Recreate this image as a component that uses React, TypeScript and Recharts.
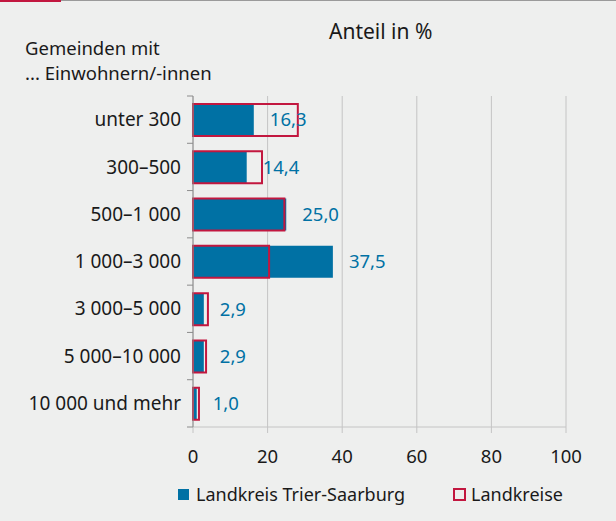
import { BarChart, Bar, XAxis, YAxis, CartesianGrid, Legend, LabelList } from 'recharts';

const categories = ['unter 300', '300–500', '500–1 000', '1 000–3 000', '3 000–5 000', '5 000–10 000', '10 000 und mehr'];
const trierSaarburg = [16.3, 14.4, 25.0, 37.5, 2.9, 2.9, 1.0];
const landkreise = [28.1, 18.5, 24.5, 20.4, 4.0, 3.5, 1.6];
const xTicks = [0, 20, 40, 60, 80, 100];

const BLUE = '#0071a4';
const RED = '#c2173f';
const BG = '#eeefee';
const GRID = '#c4c4c4';
const TEXT = '#1a1a1a';
const FONT = '"Noto Sans", sans-serif';

const TOP = 96;
const PLOT_H = 331;
const HALF_BAND = PLOT_H / categories.length / 2;
const LEGEND_H = 20;

const chartData = categories.map((name, i) => ({
  name,
  trier: trierSaarburg[i],
  kreise: landkreise[i],
}));

const fmt = (v: number) => v.toFixed(1).replace('.', ',');

const CategoryTick = (props: any) => {
  const { x, y, payload, index } = props;
  const axisX = x + 8;
  return (
    <g>
      <line x1={axisX - 6} x2={axisX} y1={y - HALF_BAND} y2={y - HALF_BAND} stroke="#8c8c8c" />
      {index === categories.length - 1 && (
        <line x1={axisX - 6} x2={axisX} y1={y + HALF_BAND} y2={y + HALF_BAND} stroke="#8c8c8c" />
      )}
      <text x={axisX - 12} y={y} dy="0.35em" textAnchor="end" fill={TEXT} fontSize={19} fontFamily={FONT}>
        {payload.value}
      </text>
    </g>
  );
};

const ValueLabel = (props: any) => {
  const { x, y, width, height, value } = props;
  return (
    <text x={x + width + 16} y={y + height / 2} dy="0.35em" fill={BLUE} fontSize={18.5} fontFamily={FONT}>
      {fmt(value)}
    </text>
  );
};

const LegendContent = () => (
  <div style={{ position: 'relative', height: LEGEND_H, fontFamily: FONT, fontSize: 18, color: TEXT }}>
    <span style={{ position: 'absolute', left: 178, top: 0, display: 'flex', alignItems: 'center', whiteSpace: 'nowrap' }}>
      <span style={{ width: 11, height: 11, background: BLUE, marginRight: 7, display: 'inline-block' }} />
      Landkreis Trier-Saarburg
    </span>
    <span style={{ position: 'absolute', left: 453, top: 0, display: 'flex', alignItems: 'center', whiteSpace: 'nowrap' }}>
      <span style={{ width: 9, height: 9, border: `2px solid ${RED}`, marginRight: 5, display: 'inline-block' }} />
      Landkreise
    </span>
  </div>
);

const App = () => {
  return (
    <div style={{ position: 'absolute', left: 0, top: 0, width: 616, height: 521, background: BG, overflow: 'hidden' }}>
      <div style={{ position: 'absolute', left: 0, top: 0, width: 616, height: 1, background: '#9a9a9a' }} />
      <div style={{ position: 'absolute', left: 0, top: 0, width: 61, height: 2, background: RED }} />
      <div style={{ position: 'absolute', left: 329, top: 17, fontFamily: FONT, fontSize: 21, color: TEXT, whiteSpace: 'nowrap' }}>
        Anteil in %
      </div>
      <div style={{ position: 'absolute', left: 25, top: 35, fontFamily: FONT, fontSize: 18.5, lineHeight: '25px', color: TEXT, whiteSpace: 'nowrap' }}>
        Gemeinden mit<br />... Einwohnern/-innen
      </div>
      <BarChart
        width={616}
        height={521}
        data={chartData}
        layout="vertical"
        margin={{ top: TOP, right: 50, bottom: 521 - TOP - PLOT_H - 40 - LEGEND_H, left: 0 }}
        barSize={32}
      >
        <CartesianGrid horizontal={false} stroke={GRID} yAxisId="a" />
        <XAxis
          type="number"
          domain={[0, 100]}
          ticks={xTicks}
          axisLine={{ stroke: GRID }}
          tickLine={{ stroke: GRID }}
          tickSize={6}
          height={40}
          tick={{ fill: TEXT, fontSize: 18.5, fontFamily: FONT }}
          tickMargin={17}
        />
        <YAxis
          yAxisId="a"
          type="category"
          dataKey="name"
          width={193}
          axisLine={{ stroke: '#8c8c8c' }}
          tickLine={false}
          tick={<CategoryTick />}
        />
        <YAxis yAxisId="b" type="category" dataKey="name" hide />
        <Bar yAxisId="a" dataKey="trier" name="Landkreis Trier-Saarburg" fill={BLUE} isAnimationActive={false}>
          <LabelList dataKey="trier" content={<ValueLabel />} />
        </Bar>
        <Bar yAxisId="b" dataKey="kreise" name="Landkreise" fill="none" stroke={RED} strokeWidth={2} isAnimationActive={false} />
        <Legend content={<LegendContent />} wrapperStyle={{ top: 482, left: 0, width: 616, height: LEGEND_H }} />
      </BarChart>
    </div>
  );
};

export default App;
